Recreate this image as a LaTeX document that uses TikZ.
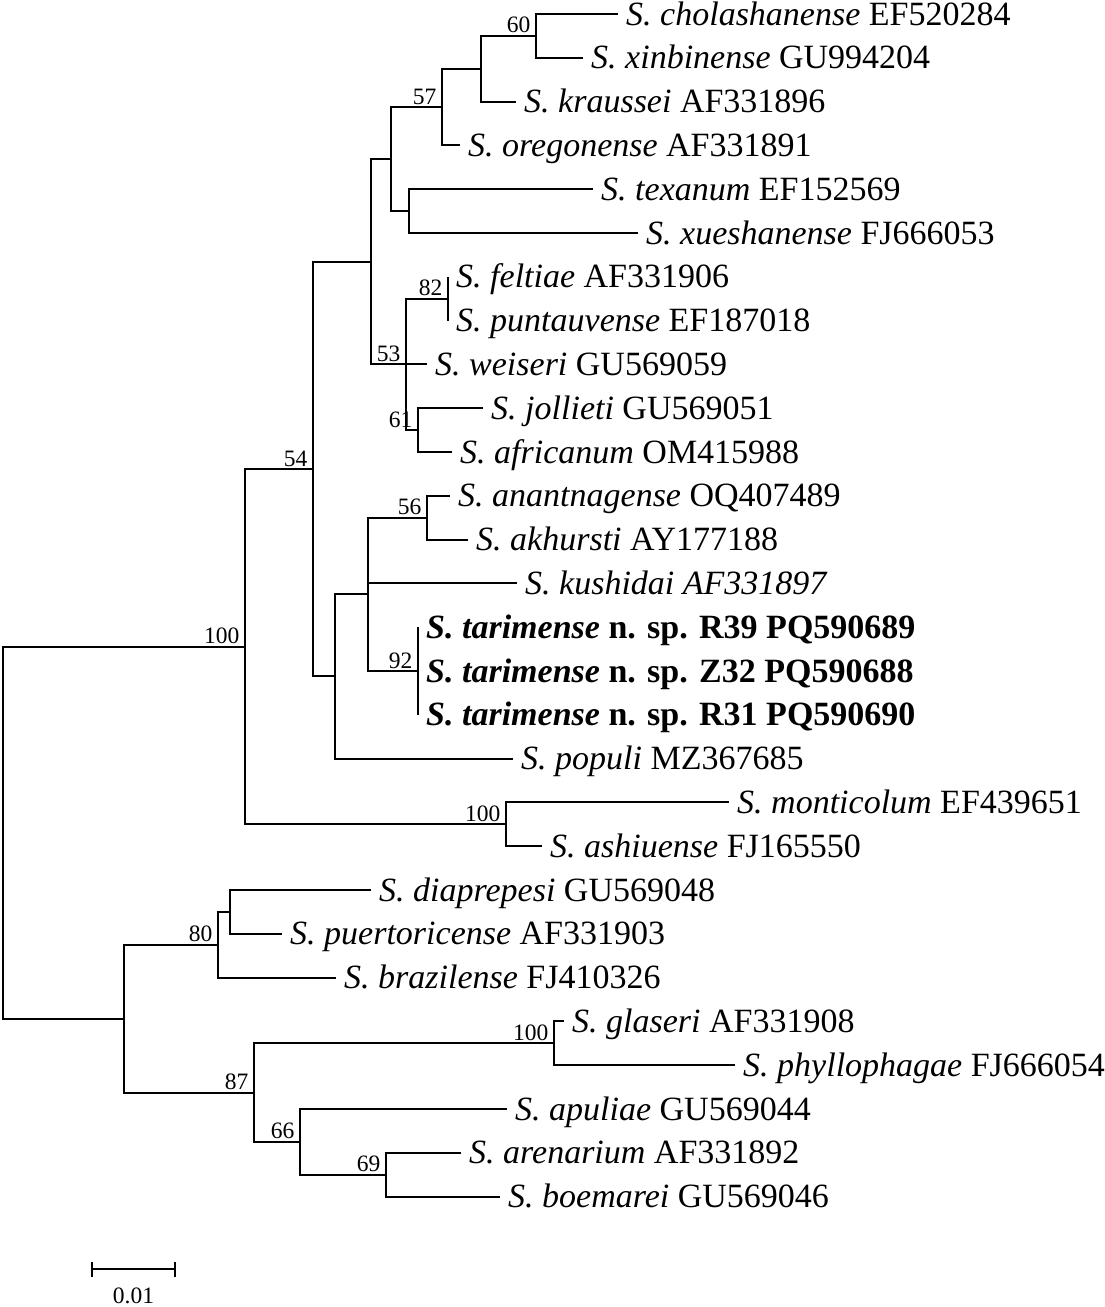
\documentclass[tikz,border=0pt]{standalone}
\usepackage{fontspec}
\setmainfont{Liberation Serif}
\newcommand\sptx[2]{\textit{S. #1} #2}
\begin{document}
\begin{tikzpicture}[x=1pt,y=-1pt,
  br/.style={line width=2pt, line join=miter},
  lab/.style={anchor=base west, inner sep=0pt, font=\fontsize{34}{40}\selectfont, xshift=8pt, yshift=-11pt},
  bs/.style={anchor=base east, inner sep=0pt, font=\fontsize{23.5}{28}\selectfont, xshift=-5.5pt, yshift=3pt}]
\useasboundingbox (0,0) rectangle (1105,1307);
% internal nodes
\coordinate (root) at (3,832.7);
\coordinate (A) at (245,646.7);
\coordinate (B) at (313,469.11);
\coordinate (C) at (371,261.74);
\coordinate (D) at (335,676.48);
\coordinate (E) at (391,159.09);
\coordinate (F) at (406,364.4);
\coordinate (G) at (442,107.075);
\coordinate (H) at (409,211.1);
\coordinate (I) at (481,68.75);
\coordinate (J) at (536,35.9);
\coordinate (K) at (448,298.7);
\coordinate (M) at (418,430.1);
\coordinate (N) at (368,594.35);
\coordinate (P) at (427,517.7);
\coordinate (Q) at (418,671);
\coordinate (Mo) at (506,824.3);
\coordinate (L) at (124,1018.7);
\coordinate (R) at (218,944.75);
\coordinate (S) at (254,1092.6);
\coordinate (T) at (230,911.9);
\coordinate (U) at (554,1043.3);
\coordinate (V) at (300,1141.85);
\coordinate (W) at (386,1174.7);
% tips
\coordinate (t1) at (618,14);
\coordinate (t2) at (583,57.8);
\coordinate (t3) at (516,101.6);
\coordinate (t4) at (460,145.4);
\coordinate (t5) at (593,189.2);
\coordinate (t6) at (638,233);
\coordinate (t7) at (448,276.8);
\coordinate (t8) at (448,320.6);
\coordinate (t9) at (427,364.4);
\coordinate (t10) at (483,408.2);
\coordinate (t11) at (452,452);
\coordinate (t12) at (450,495.8);
\coordinate (t13) at (468,539.6);
\coordinate (t14) at (517,583.4);
\coordinate (t15) at (418,627.2);
\coordinate (t16) at (418,671);
\coordinate (t17) at (418,714.8);
\coordinate (t18) at (513,758.6);
\coordinate (t19) at (729,802.4);
\coordinate (t20) at (542,846.2);
\coordinate (t21) at (371,890);
\coordinate (t22) at (282,933.8);
\coordinate (t23) at (336,977.6);
\coordinate (t24) at (564,1021.4);
\coordinate (t25) at (735,1065.2);
\coordinate (t26) at (507,1109);
\coordinate (t27) at (461,1152.8);
\coordinate (t28) at (500,1196.6);
% branches
\draw[br] (root) |- (A) (root) |- (L);
\draw[br] (A) |- (B) (A) |- (Mo);
\draw[br] (B) |- (C) (B) |- (D);
\draw[br] (C) |- (E) (C) |- (F);
\draw[br] (E) |- (G) (E) |- (H);
\draw[br] (G) |- (I) (G) |- (t4);
\draw[br] (I) |- (J) (I) |- (t3);
\draw[br] (J) |- (t1) (J) |- (t2);
\draw[br] (H) |- (t5) (H) |- (t6);
\draw[br] (F) |- (K) (F) |- (t9) (F) |- (M);
\draw[br] (K) -- (t7) (K) -- (t8);
\draw[br] (M) |- (t10) (M) |- (t11);
\draw[br] (D) |- (N) (D) |- (t18);
\draw[br] (N) |- (P) (N) |- (t14) (N) |- (Q);
\draw[br] (P) |- (t12) (P) |- (t13);
\draw[br] (Q) -- (t15) (Q) -- (t17);
\draw[br] (Mo) |- (t19) (Mo) |- (t20);
\draw[br] (L) |- (R) (L) |- (S);
\draw[br] (R) |- (T) (R) |- (t23);
\draw[br] (T) |- (t21) (T) |- (t22);
\draw[br] (S) |- (U) (S) |- (V);
\draw[br] (U) |- (t24) (U) |- (t25);
\draw[br] (V) |- (t26) (V) |- (W);
\draw[br] (W) |- (t27) (W) |- (t28);
% tip labels
\node[lab] (l1) at (t1) {\sptx{cholashanense}{EF520284}};
\node[lab] (l2) at (t2) {\sptx{xinbinense}{GU994204}};
\node[lab] (l3) at (t3) {\sptx{kraussei}{AF331896}};
\node[lab] (l4) at (t4) {\sptx{oregonense}{AF331891}};
\node[lab] (l5) at (t5) {\sptx{texanum}{EF152569}};
\node[lab] (l6) at (t6) {\sptx{xueshanense}{FJ666053}};
\node[lab] (l7) at (t7) {\sptx{feltiae}{AF331906}};
\node[lab] (l8) at (t8) {\sptx{puntauvense}{EF187018}};
\node[lab] (l9) at (t9) {\sptx{weiseri}{GU569059}};
\node[lab] (l10) at (t10) {\sptx{jollieti}{GU569051}};
\node[lab] (l11) at (t11) {\sptx{africanum}{OM415988}};
\node[lab] (l12) at (t12) {\sptx{anantnagense}{OQ407489}};
\node[lab] (l13) at (t13) {\sptx{akhursti}{AY177188}};
\node[lab] (l14) at (t14) {\textit{S. kushidai AF331897}};
\node[lab] (l15) at (t15) {\textbf{\textit{S. tarimense} n. sp. R39 PQ590689}};
\node[lab] (l16) at (t16) {\textbf{\textit{S. tarimense} n. sp. Z32 PQ590688}};
\node[lab] (l17) at (t17) {\textbf{\textit{S. tarimense} n. sp. R31 PQ590690}};
\node[lab] (l18) at (t18) {\sptx{populi}{MZ367685}};
\node[lab] (l19) at (t19) {\sptx{monticolum}{EF439651}};
\node[lab] (l20) at (t20) {\sptx{ashiuense}{FJ165550}};
\node[lab] (l21) at (t21) {\sptx{diaprepesi}{GU569048}};
\node[lab] (l22) at (t22) {\sptx{puertoricense}{AF331903}};
\node[lab] (l23) at (t23) {\sptx{brazilense}{FJ410326}};
\node[lab] (l24) at (t24) {\sptx{glaseri}{AF331908}};
\node[lab] (l25) at (t25) {\sptx{phyllophagae}{FJ666054}};
\node[lab] (l26) at (t26) {\sptx{apuliae}{GU569044}};
\node[lab] (l27) at (t27) {\sptx{arenarium}{AF331892}};
\node[lab] (l28) at (t28) {\sptx{boemarei}{GU569046}};
% bootstrap values
\node[bs] (bJ) at (J) {60};
\node[bs] (bG) at (G) {57};
\node[bs] (bK) at (K) {82};
\node[bs] (bF) at (F) {53};
\node[bs] (bM) at (M) {61};
\node[bs] (bB) at (B) {54};
\node[bs] (bP) at (P) {56};
\node[bs] (bQ) at (Q) {92};
\node[bs] (bA) at (A) {100};
\node[bs] (bMo) at (Mo) {100};
\node[bs] (bR) at (R) {80};
\node[bs] (bS) at (S) {87};
\node[bs] (bV) at (V) {66};
\node[bs] (bW) at (W) {69};
\node[bs] (bU) at (U) {100};
% scale bar
\coordinate (s1) at (92,1269);
\coordinate (s2) at (175,1269);
\coordinate (s1a) at (92,1261.5);
\coordinate (s1b) at (92,1276.5);
\coordinate (s2a) at (175,1261.5);
\coordinate (s2b) at (175,1276.5);
\draw[br] (s1) -- (s2);
\draw[br] (s1a) -- (s1b) (s2a) -- (s2b);
\node[anchor=base, inner sep=0pt, font=\fontsize{23.5}{28}\selectfont] (sl) at (133.5,1303) {0.01};
\end{tikzpicture}
\end{document}
